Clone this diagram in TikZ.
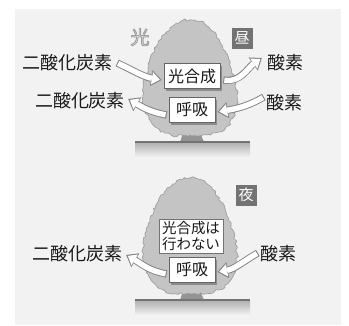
\documentclass[tikz,border=0pt]{standalone}
\usepackage{fontspec}
\newfontfamily\jp{Noto Sans CJK JP}
\usetikzlibrary{arrows.meta,shadows,decorations.pathmorphing}

% outlined text: white fill, grey stroke
\newcommand\haloed[1]{\special{pdf:literal direct 1 j 2 Tr 0.9 w 0.62 G}#1\special{pdf:literal direct 0 Tr}}

\begin{document}
\begin{tikzpicture}[x=1pt,y=-1pt,
    every node/.append style={font=\jp, inner sep=0pt, text=black!90},
    lbl/.style={font=\jp\fontsize{18}{18}\selectfont},
    procbox/.style={draw=black!60, fill=white, line width=0.8pt,
        font=\jp\fontsize{16}{16}\selectfont, minimum height=25pt,
        drop shadow={shadow xshift=2pt, shadow yshift=-2pt, opacity=1, fill=black!45}},
    notebox/.style={draw=black!55, fill=white, line width=0.6pt, align=center,
        inner xsep=3pt, inner ysep=2pt, font=\jp\fontsize{14.5}{16.5}\selectfont},
    timebox/.style={fill=black!55, text=white, minimum size=21pt,
        font=\jp\fontsize{15}{15}\selectfont},
    crown/.style={fill=black!23, draw=black!40, line width=0.6pt, decorate,
        decoration={random steps, segment length=2.5pt, amplitude=1.3pt}},
    flow/.style={draw=white, line width=5.4pt, shorten >=1.8pt, shorten <=1pt,
        -{Triangle[length=8pt, width=12.5pt, line width=0pt]},
        preaction={draw=black!50, line width=7.2pt, shorten >=0pt, shorten <=0pt,
            -{Triangle[length=10.5pt, width=16pt, line width=0pt]}}}]

    \useasboundingbox (0,0) rectangle (349,325);
    \fill[white] (0,0) rectangle (349,325);
    \fill[black!5] (15,9) rectangle (341,325);

    % two trees, day above and night below
    \pgfmathsetseed{7}
    \foreach \dy in {0,158} {
        \begin{scope}[shift={(0,\dy)}]
            \shade[top color=black!30, bottom color=black!5] (135,143) rectangle (250,157);
            \fill[black!42] (184,130) -- (199,130) -- (204,142) -- (180,142) -- cycle;
            \draw[crown] plot[smooth cycle, tension=0.75] coordinates {
                (190,20) (207,26) (221,44) (231,68) (237,95) (233,118)
                (218,132) (192,136) (165,133) (150,120) (143,95) (148,68)
                (158,44) (173,26)};
            \draw[black!55, line width=2pt] (135,142) -- (250,142);
        \end{scope}
    }

    % day
    \node[font=\jp\fontsize{19}{19}\selectfont, text=white] (light) at (140,37) {\haloed{光}};
    \node[timebox] (day) at (242,38) {昼};

    \node[lbl] (co2in) at (68,63) {二酸化炭素};
    \node[lbl] (o2out) at (285,63) {酸素};
    \node[lbl] (co2out) at (80,101) {二酸化炭素};
    \node[lbl] (o2in) at (284,103) {酸素};

    \node[procbox, minimum width=56pt] (photo) at (192,76) {光合成};
    \node[procbox, minimum width=46pt] (resp) at (192,110) {呼吸};

    \draw[flow] ([xshift=4pt]co2in.east) to[out=-25, in=170] ([xshift=-2pt, yshift=-4pt]photo.west);
    \draw[flow] ([xshift=3pt, yshift=-4pt]photo.east) to[out=-10, in=215] ([xshift=-5pt, yshift=5pt]o2out.west);
    \draw[flow] ([xshift=-2pt, yshift=6pt]o2in.west) to[out=210, in=10] ([xshift=2pt, yshift=-2pt]resp.east);
    \draw[flow] ([xshift=-2pt, yshift=-5pt]resp.west) to[out=170, in=-30] ([xshift=3pt, yshift=2pt]co2out.east);

    % night
    \node[timebox] (night) at (246,195) {夜};

    \node[lbl] (nco2out) at (78,254) {二酸化炭素};
    \node[lbl] (no2in) at (278,254) {酸素};

    \node[notebox] (nophoto) at (191,236) {光合成は\\行わない};
    \node[procbox, minimum width=46pt] (nresp) at (192,270) {呼吸};

    \draw[flow] ([xshift=-2pt, yshift=1pt]no2in.west) to[out=210, in=10] ([xshift=2pt, yshift=-2pt]nresp.east);
    \draw[flow] ([xshift=-2pt, yshift=-4pt]nresp.west) to[out=170, in=-30] ([xshift=3pt, yshift=-1pt]nco2out.east);
\end{tikzpicture}
\end{document}
